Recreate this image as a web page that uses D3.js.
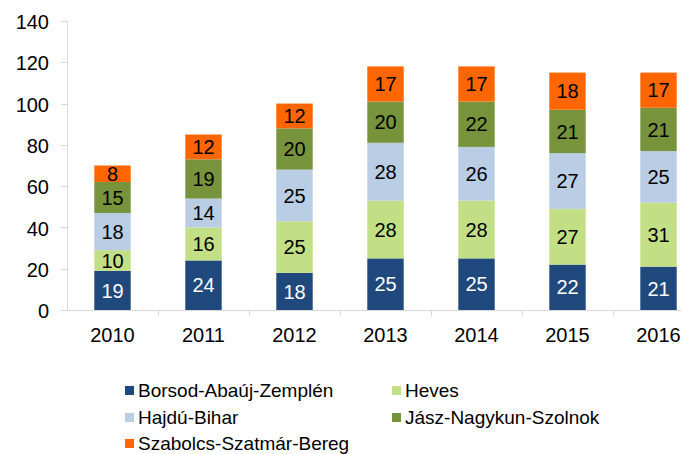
<!DOCTYPE html>
<html><head><meta charset="utf-8">
<script src="https://cdn.jsdelivr.net/npm/d3@7"></script>
<style>body{margin:0;background:#fff}svg{display:block;font-family:"Liberation Sans",Arial,sans-serif}</style>
</head><body>
<script>
const years = ["2010","2011","2012","2013","2014","2015","2016"];
const seriesNames = ["Borsod-Abaúj-Zemplén","Heves","Hajdú-Bihar","Jász-Nagykun-Szolnok","Szabolcs-Szatmár-Bereg"];
const borsod = [19,24,18,25,25,22,21];
const heves = [10,16,25,28,28,27,31];
const hajdu = [18,14,25,28,26,27,25];
const jasz = [15,19,20,20,22,21,21];
const szabolcs = [8,12,12,17,17,18,17];
const yTicks = [0,20,40,60,80,100,120,140];
const colors = ["#1F497D","#C3DF86","#B9CDE5","#77933C","#FF6600"];
const labelColors = ["#fff","#000","#000","#000","#000"];

const W=681,H=454;
const svg=d3.select("body").append("svg").attr("width",W).attr("height",H);
const allSeries=[borsod,heves,hajdu,jasz,szabolcs];
const rows=years.map((y,i)=>{const o={year:y};seriesNames.forEach((n,k)=>o[n]=allSeries[k][i]);return o;});
const stack=d3.stack().keys(seriesNames)(rows);

const x0=67, step=91;
const x=d3.scaleBand().domain(years).range([x0,x0+step*years.length]).paddingInner(0.6).paddingOuter(0.3);
const y=d3.scaleLinear().domain([0,140]).range([310,21]);

// axes
const axCol="#d9d9d9";
svg.append("line").attr("x1",x0+0.5).attr("x2",x0+0.5).attr("y1",21).attr("y2",311).attr("stroke",axCol);
svg.append("line").attr("x1",x0).attr("x2",W).attr("y1",310.5).attr("y2",310.5).attr("stroke",axCol);
yTicks.forEach(t=>{
  svg.append("line").attr("x1",x0-6).attr("x2",x0).attr("y1",Math.round(y(t))+0.5).attr("y2",Math.round(y(t))+0.5).attr("stroke",axCol);
  svg.append("text").attr("x",49).attr("y",y(t)+1).attr("dy","0.36em").attr("text-anchor","end").attr("font-size",20).attr("fill","#000").text(t);
});
for(let i=1;i<=years.length;i++){
  const xx=x0+step*i+0.5;
  svg.append("line").attr("x1",xx).attr("x2",xx).attr("y1",310).attr("y2",316).attr("stroke",axCol);
}
years.forEach(yr=>{
  svg.append("text").attr("x",x(yr)+x.bandwidth()/2).attr("y",335).attr("dy","0.36em").attr("text-anchor","middle").attr("font-size",20).text(yr);
});

// bars
stack.forEach((s,k)=>{
  const g=svg.append("g");
  g.selectAll("rect").data(s).join("rect")
    .attr("x",d=>x(d.data.year)).attr("width",x.bandwidth())
    .attr("y",d=>y(d[1])).attr("height",d=>y(d[0])-y(d[1]))
    .attr("fill",colors[k]);
  g.selectAll("text").data(s).join("text")
    .attr("x",d=>x(d.data.year)+x.bandwidth()/2)
    .attr("y",d=>(y(d[0])+y(d[1]))/2).attr("dy","0.36em")
    .attr("text-anchor","middle").attr("font-size",20).attr("fill",labelColors[k])
    .text(d=>d[1]-d[0]);
});

// legend
const legPos=[[125,390],[392,390],[125,417],[392,417],[125,443]];
seriesNames.forEach((n,k)=>{
  const [lx,ly]=legPos[k];
  svg.append("rect").attr("x",lx).attr("y",ly-4).attr("width",9).attr("height",9).attr("fill",colors[k]);
  svg.append("text").attr("x",lx+13).attr("y",ly).attr("dy","0.36em").attr("font-size",19).text(n);
});
</script>
</body></html>
